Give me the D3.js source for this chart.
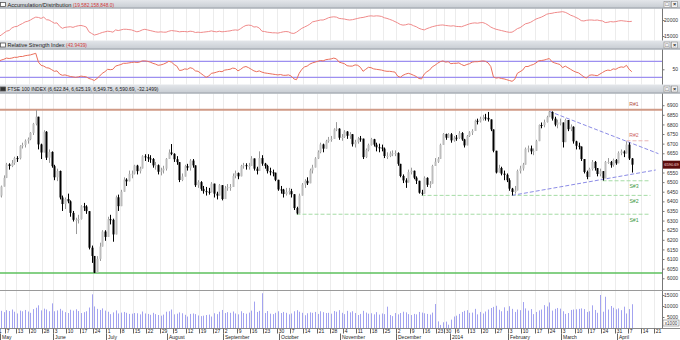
<!DOCTYPE html>
<html>
<head>
<meta charset="utf-8">
<script src="https://cdn.jsdelivr.net/npm/d3@7"></script>
<style>
  body { margin: 0; background: #fff; }
  svg { display: block; }
  text { font-family: "Liberation Sans", Arial, sans-serif; }
</style>
</head>
<body>
<div class="chart"></div>
<script>
// Canvas
var svgWidth = 680;
var svgHeight = 340;
var plotRight = 662;

// Calendar: first day, last day with data, end of the time axis, LSE holidays in between
var firstDay = "2013-05-01";
var lastDataDay = "2014-04-08";
var lastAxisDay = "2014-04-25";
var holidays = ["2013-05-06", "2013-05-27", "2013-08-26", "2013-12-25", "2013-12-26", "2014-01-01"];

// Titles
var adTitle = "Accumulation/Distribution";
var adValue = "(19,582,158,848.0)";
var rsiTitle = "Relative Strength Index";
var rsiValue = "(43.9439)";
var mainTitle = "FTSE 100 INDEX (6,622.84, 6,625.19, 6,549.75, 6,590.69, -32.1499)";

// Daily FTSE 100 prices (open of a day = previous close)
var prevClose = 6426;
var closes = [
  6430,6477,6522,6592,6584,6600,6625,6624,6687,6693,6715,6723,6756,6803,6840,6696,6654,6762,6627,6657,6583,
  6525,6558,6420,6386,6412,6400,6340,6304,6304,6308,6374,6373,6349,6159,6116,6029,6101,6165,6243,6215,
  6307,6304,6228,6421,6375,6450,6513,6504,6543,6544,6586,6557,6571,6634,6630,6623,6620,6587,6588,6554,6561,6570,6621,
  6654,6647,6619,6604,6511,6529,6583,6575,6612,6587,6484,6500,6465,6453,6450,6447,6492,6440,6430,6484,6412,
  6468,6474,6475,6532,6547,6530,6584,6588,6583,6584,6623,6570,6558,6625,6596,6584,6557,6551,6549,6512,6462,
  6461,6438,6449,6453,6437,6365,6337,6430,6487,6507,6494,6561,6576,6623,6656,6696,6674,6713,6721,6725,6774,6778,6731,
  6735,6763,6741,6749,6697,6708,6727,6726,6630,6667,6693,6723,6695,6681,6680,6674,6636,6636,6649,6650,6651,
  6595,6532,6509,6498,6552,6559,6523,6507,6445,6440,6522,6486,6492,6584,6606,6621,6694,6750,6731,6749,
  6717,6731,6730,6755,6722,6691,6740,6758,6766,6819,6816,6829,6836,6834,6826,6774,6663,6550,6573,6544,6538,6510,
  6466,6449,6457,6558,6571,6591,6673,6675,6660,6663,6713,6797,6796,6812,6838,6865,6830,6799,6810,6810,
  6708,6823,6775,6788,6712,6689,6685,6620,6553,6527,6568,6605,6573,6542,6557,6520,6605,6605,6588,6615,6598,
  6652,6659,6649,6695,6622.84,6590.69
];
var highs = [
  6452,6482,6535,6600,6598,6615,6632,6635,6692,6705,6722,6732,6760,6808,6876,6840,6700,6770,6765,6670,6660,
  6590,6570,6560,6430,6420,6440,6405,6350,6315,6330,6380,6392,6380,6349,6170,6116,6115,6185,6250,6250,
  6320,6330,6310,6430,6435,6460,6525,6520,6560,6560,6590,6590,6580,6640,6645,6645,6640,6625,6605,6592,6575,6585,6625,
  6670,6698,6650,6635,6604,6545,6590,6595,6620,6620,6587,6510,6505,6480,6475,6470,6500,6492,6450,6490,6484,
  6480,6490,6490,6545,6560,6550,6590,6600,6598,6600,6635,6623,6580,6660,6640,6600,6590,6575,6565,6549,6512,
  6480,6465,6470,6470,6465,6437,6372,6440,6495,6515,6525,6570,6590,6630,6665,6705,6700,6720,6735,6740,6780,6812,6780,
  6750,6770,6765,6760,6750,6720,6735,6740,6726,6675,6700,6730,6725,6705,6700,6695,6680,6655,6660,6665,6665,
  6655,6595,6540,6520,6565,6575,6560,6530,6507,6460,6530,6525,6505,6590,6625,6630,6700,6755,6752,6755,
  6755,6740,6745,6765,6760,6725,6745,6765,6775,6825,6830,6840,6850,6855,6865,6826,6774,6663,6590,6580,6560,6545,
  6520,6470,6480,6565,6585,6600,6680,6690,6690,6675,6720,6800,6810,6825,6845,6870,6868,6840,6825,6830,
  6810,6830,6823,6800,6790,6715,6705,6685,6620,6560,6575,6615,6610,6573,6570,6557,6610,6625,6610,6622,6620,
  6660,6670,6665,6712,6706,6625.19
];
var lows = [
  6410,6420,6477,6521,6565,6578,6590,6605,6618,6675,6680,6700,6718,6745,6795,6670,6620,6655,6615,6600,6575,
  6510,6505,6410,6350,6360,6390,6320,6295,6230,6285,6305,6350,6335,6150,6080,6027,6029,6090,6165,6195,
  6215,6280,6190,6228,6350,6375,6450,6480,6504,6520,6540,6540,6545,6571,6610,6605,6600,6575,6565,6540,6535,6545,6560,
  6621,6640,6605,6590,6500,6505,6529,6560,6560,6575,6475,6470,6455,6440,6430,6435,6447,6420,6410,6430,6405,
  6412,6455,6455,6475,6520,6515,6530,6570,6565,6565,6584,6560,6540,6558,6585,6570,6545,6535,6530,6505,6455,
  6440,6420,6430,6435,6420,6355,6332,6337,6430,6470,6485,6494,6545,6576,6620,6650,6655,6674,6705,6710,6725,6765,6720,
  6715,6730,6725,6725,6685,6680,6700,6710,6620,6625,6660,6690,6685,6660,6655,6660,6625,6620,6630,6635,6635,
  6585,6525,6495,6470,6498,6540,6515,6490,6440,6431,6440,6475,6470,6492,6584,6600,6621,6694,6720,6730,
  6705,6710,6715,6725,6715,6680,6691,6735,6745,6766,6800,6810,6820,6820,6815,6765,6655,6545,6550,6535,6510,6500,
  6455,6431,6440,6457,6545,6560,6591,6655,6645,6640,6663,6713,6780,6785,6810,6838,6820,6790,6780,6795,
  6680,6708,6765,6765,6700,6670,6670,6610,6545,6515,6527,6560,6560,6530,6530,6508,6520,6595,6575,6580,6590,
  6598,6640,6630,6649,6615,6549.75
];
var volumes = [
  7300,7800,7200,8100,7700,8400,7400,6600,7900,7600,8200,7500,6900,8600,9200,10300,8000,8800,8400,7600,11200,
  7600,8000,8700,7900,7200,6800,8300,7900,8500,7700,6800,7200,7600,9300,15300,9800,8700,8200,8900,7900,
  7400,6300,7100,8000,6600,7000,7300,6900,6400,6500,6800,6700,6200,7500,6600,6400,6000,6900,6300,5900,5600,6100,7400,
  7600,8400,6200,6500,7100,6700,6000,5200,6400,6600,6300,5700,5400,5600,5900,6100,5200,6700,6300,7400,8200,
  6800,7200,6900,7500,6600,6200,7600,6800,6500,7000,7900,12000,7300,7800,15800,6800,7700,6500,6300,6900,7600,
  6800,7300,6900,6200,6600,7600,8100,7400,6900,5800,6700,7100,6900,7300,6400,7600,7200,6800,6900,6500,7700,7400,8100,
  6900,6300,7800,7100,7600,6800,5900,6400,7800,7000,6500,6700,6200,7200,6100,6600,6300,9700,5900,5400,6800,
  6200,6800,7400,7100,6300,5900,6400,6200,7300,7000,6700,6400,6100,7000,10900,3000,1400,2600,2900,1500,
  3800,5200,5600,6400,7300,7800,8100,6900,7000,8700,6200,7300,6600,7500,8400,9100,9600,10100,8300,7600,9400,7800,
  9900,8700,7300,8400,8100,11800,8900,7900,8600,6300,7300,8000,8400,10400,9800,11600,7900,8700,9100,8800,
  7600,6400,6800,8200,8400,8500,8700,8900,8600,7300,7600,10300,8200,6900,15000,7400,14200,8400,10000,9200,8500,
  8900,8100,9700,6600,8600,10800
];
// Accumulation/Distribution, in millions
var adLine = [
  14700,15300,15900,16500,16700,17500,17900,18000,18500,18900,19400,19600,20000,20500,20900,20800,20500,20900,20100,20000,19500,
  19000,19100,18000,17400,17700,17800,17900,17700,18000,18200,18300,18100,17800,16300,15800,15300,15500,15800,16100,16300,
  16500,16400,16200,16900,16700,16900,17100,17100,17000,16900,16600,16300,16500,16900,17100,16900,16700,16500,16300,16200,16300,16200,16200,
  16500,16700,16600,16500,16300,16400,16400,16300,16500,16400,16100,16200,16100,16200,16300,16400,16600,16400,16300,16500,16300,
  16400,16500,16600,16800,16900,16800,17300,17900,18300,18400,18300,17800,17900,17500,16500,16400,16200,16100,16000,16000,15900,
  16100,16300,16400,16300,15900,15800,16200,16800,17400,17800,18200,18700,19400,19600,19800,20000,20000,20300,20700,20900,21000,20900,20500,
  20400,20300,20100,20000,20100,20300,20500,20700,20800,21000,21200,21300,21200,21300,21250,21100,20700,20500,20200,19900,19500,
  19100,18600,18400,18500,18750,18600,18200,17900,17400,17100,16900,17300,17600,17900,18100,18300,18400,18450,18300,18200,
  18100,18200,18000,17950,17900,18200,18500,18800,19000,19100,19000,19150,19200,18900,18400,17800,17400,17100,16900,16700,16500,16300,
  16150,16200,16700,17300,17600,18200,18800,19000,19300,19800,20300,20600,20900,21300,21800,22000,22100,22300,22400,22500,
  22600,22400,22000,21500,21200,20800,20400,19800,19700,19900,20000,20000,19900,20000,19800,19700,19200,19300,19500,19400,19500,
  19700,19800,19700,19600,19500,19582
];
var rsiValues = [
  70,73,75,78,77,78,80,80,82,82,84,85,86,88,90,68,60,58,54,53,49,
  45,46,38,35,36,34,32,31,30,31,33,32,31,27,25,22,27,33,40,44,
  50,49,50,58,60,62,65,65,66,67,68,67,68,71,71,70,68,65,63,60,61,63,66,
  70,68,62,58,47,48,51,50,54,52,46,45,40,35,30,33,40,41,43,45,44,
  48,49,50,53,52,46,50,55,57,54,50,46,44,46,43,41,40,39,38,37,36,
  37,35,35,36,33,26,24,40,50,56,58,63,66,68,70,72,71,74,75,76,78,76,68,
  66,64,59,58,58,61,60,55,45,50,55,54,51,50,49,48,46,45,45,44,43,
  33,30,35,38,40,38,35,32,27,26,38,44,48,56,60,65,69,71,68,69,
  64,65,65,66,62,59,62,64,68,69,69,70,71,70,66,57,31,28,29,27,26,24,
  22,20,25,40,44,48,57,57,60,62,66,71,72,73,75,77,69,66,64,62,
  54,58,54,50,46,43,41,36,31,28,35,36,35,34,38,42,46,48,47,51,50,
  54,56,55,60,50,43.94
];

// Axis tick labels (6600 sits under the last-price box, so it is not printed)
var priceTicks = [6000, 6050, 6100, 6150, 6200, 6250, 6300, 6350, 6400, 6450, 6500, 6550, 6650, 6700, 6750, 6800, 6850, 6900];
var volumeTicks = [5000, 10000, 15000];
var adTicks = [15000, 20000];
var rsiTicks = [50];
var rsiBands = [70, 30];

// Drawn support / resistance levels
var levelNames = ["R#1", "R#2", "S#3", "S#2", "S#1"];
var levelValues = [6876, 6715, 6507, 6431, 6333];
var levelFrom = ["2013-05-01", "2014-04-04", "2014-03-24", "2013-12-13", "2013-10-09"];
var levelTo = "2014-04-17";
var supportValue = 6028;
var trendUpper = [["2014-02-24", 6868], ["2014-04-22", 6648]];
var trendLower = [["2014-02-04", 6431], ["2014-04-21", 6563]];

// ---------------------------------------------------------------
var parseDate = d3.timeParse("%Y-%m-%d");
var fmtDate = d3.timeFormat("%Y-%m-%d");

var axisDays = d3.timeDays(parseDate(firstDay), d3.timeDay.offset(parseDate(lastAxisDay), 1))
  .filter(d => d.getDay() !== 0 && d.getDay() !== 6 && holidays.indexOf(fmtDate(d)) < 0);
var dayIndex = {};
axisDays.forEach((d, i) => { dayIndex[fmtDate(d)] = i; });
var lastIndex = dayIndex[lastDataDay];

var svg = d3.select(".chart").append("svg")
  .attr("width", svgWidth)
  .attr("height", svgHeight);

var defs = svg.append("defs");
var grad = defs.append("linearGradient").attr("id", "barGrad")
  .attr("x1", 0).attr("y1", 0).attr("x2", 0).attr("y2", 1);
grad.append("stop").attr("offset", "0%").attr("stop-color", "#e3e6ea");
grad.append("stop").attr("offset", "100%").attr("stop-color", "#c6cbd1");

// panels: title bar top, plot top, plot bottom
var adPanel = {bar: 0, top: 8.5, bottom: 40.5};
var rsiPanel = {bar: 40.5, top: 49.5, bottom: 84.5};
var mainPanel = {bar: 84.5, top: 93.5, bottom: 290.5};
var volPanel = {top: 291, bottom: 328};

function clip(id, p) {
  defs.append("clipPath").attr("id", id).append("rect")
    .attr("x", 0).attr("y", p.top).attr("width", plotRight).attr("height", p.bottom - p.top);
}
clip("clipAd", adPanel);
clip("clipRsi", rsiPanel);
clip("clipMain", mainPanel);
clip("clipVol", volPanel);

// Scales
var x = d3.scaleLinear().domain([0, lastIndex]).range([-1.5, 631.8]);
var yPrice = d3.scaleLinear().domain([6030, 6875]).range([272.5, 110]);
var yVol = d3.scaleLinear().domain([0, 15000]).range([328, 295]);
var yAd = d3.scaleLinear().domain([15000, 20000]).range([36, 20]);
var yRsi = d3.scaleLinear().domain([30, 70]).range([77.3, 61.3]);
var xDate = s => x(dayIndex[s]);

// weekly and monthly ticks on the date axis
var weekTicks = [], monthTicks = [];
axisDays.forEach(function(d, i) {
  var prev = axisDays[i - 1];
  if (!prev || +d3.timeMonday.floor(prev) !== +d3.timeMonday.floor(d)) weekTicks.push({i: i, d: d});
  if (!prev || prev.getMonth() !== d.getMonth()) monthTicks.push({i: i, d: d});
});
var tickX = i => Math.round(x(i) - 1.3) + 0.5;

// vertical grid in every panel
[adPanel, rsiPanel, mainPanel, volPanel].forEach(function(p) {
  svg.append("g").selectAll("line").data(weekTicks).enter().append("line")
    .attr("x1", d => tickX(d.i)).attr("x2", d => tickX(d.i))
    .attr("y1", p.top).attr("y2", p.bottom)
    .attr("stroke", "#ececec").attr("stroke-width", 1);
});

// Title bars
function titleBar(p, bottom, parts, widths, dark) {
  svg.append("rect").attr("x", 0).attr("y", p.bar).attr("width", svgWidth).attr("height", bottom - p.bar)
    .attr("fill", "url(#barGrad)");
  svg.append("line").attr("x1", 0).attr("x2", svgWidth).attr("y1", bottom - 0.5).attr("y2", bottom - 0.5)
    .attr("stroke", "#9aa1a8");
  svg.append("rect").attr("x", 0.5).attr("y", p.bar + 2.5).attr("width", 5).attr("height", 4)
    .attr("fill", dark ? "#333" : "#fff").attr("stroke", "#555").attr("stroke-width", 0.8);
  var xPos = 7.5;
  parts.forEach(function(part, k) {
    svg.append("text").attr("x", xPos).attr("y", p.bar + 6.6).attr("font-size", 5.6)
      .attr("fill", part[1]).attr("textLength", widths[k]).attr("lengthAdjust", "spacingAndGlyphs")
      .text(part[0]);
    xPos += widths[k] + 1.5;
  });
  // window buttons
  [664, 671.5].forEach(function(bx, k) {
    svg.append("rect").attr("x", bx).attr("y", p.bar + 1.5).attr("width", 6).attr("height", 6)
      .attr("fill", "#f2f2f2").attr("stroke", "#8a8a8a").attr("stroke-width", 0.6);
    svg.append("text").attr("x", bx + 3).attr("y", p.bar + 6.3).attr("font-size", 5.5)
      .attr("text-anchor", "middle").attr("fill", "#222").attr("font-weight", "bold")
      .text(k === 0 ? "\u25A1" : "\u00D7");
  });
}
titleBar(adPanel, adPanel.top, [[adTitle, "#222"], [adValue, "#d23a3a"]], [64, 41], false);
titleBar(rsiPanel, rsiPanel.top, [[rsiTitle, "#222"], [rsiValue, "#d23a3a"]], [57, 21], false);
titleBar(mainPanel, mainPanel.top, [[mainTitle, "#222"]], [151], true);

// separator between price and volume
svg.append("line").attr("x1", 0).attr("x2", svgWidth).attr("y1", 290.5).attr("y2", 290.5).attr("stroke", "#9a9a9a");

// A/D line
svg.append("path")
  .datum(adLine)
  .attr("clip-path", "url(#clipAd)")
  .attr("fill", "none").attr("stroke", "#ef8a8a").attr("stroke-width", 1)
  .attr("d", d3.line().x((d, i) => x(i)).y(d => yAd(d)));

// RSI bands and line
svg.append("g").attr("clip-path", "url(#clipRsi)").selectAll("line").data(rsiBands).enter().append("line")
  .attr("x1", 0).attr("x2", plotRight).attr("y1", d => yRsi(d)).attr("y2", d => yRsi(d))
  .attr("stroke", "#9d8ff0").attr("stroke-width", 1.2);
svg.append("path")
  .datum(rsiValues)
  .attr("clip-path", "url(#clipRsi)")
  .attr("fill", "none").attr("stroke", "#ea6f5c").attr("stroke-width", 1)
  .attr("d", d3.line().x((d, i) => x(i)).y(d => yRsi(d)));

// Price panel
var mainG = svg.append("g").attr("clip-path", "url(#clipMain)");

// horizontal levels
mainG.append("line").attr("x1", 0).attr("x2", plotRight)
  .attr("y1", yPrice(levelValues[0])).attr("y2", yPrice(levelValues[0]))
  .attr("stroke", "#d09a86").attr("stroke-width", 2);
mainG.append("line").attr("x1", 0).attr("x2", plotRight)
  .attr("y1", yPrice(supportValue)).attr("y2", yPrice(supportValue))
  .attr("stroke", "#5cc15c").attr("stroke-width", 1.5);
levelNames.slice(1).forEach(function(name, k) {
  var v = levelValues[k + 1];
  mainG.append("line")
    .attr("x1", xDate(levelFrom[k + 1])).attr("x2", xDate(levelTo))
    .attr("y1", yPrice(v)).attr("y2", yPrice(v))
    .attr("stroke", name[0] === "R" ? "#e9b4b4" : "#a6dca6")
    .attr("stroke-width", 1).attr("stroke-dasharray", "4,2");
});
[trendUpper, trendLower].forEach(function(t) {
  mainG.append("line")
    .attr("x1", xDate(t[0][0])).attr("y1", yPrice(t[0][1]))
    .attr("x2", xDate(t[1][0])).attr("y2", yPrice(t[1][1]))
    .attr("stroke", "#8c8ce6").attr("stroke-width", 1).attr("stroke-dasharray", "4,2");
});
mainG.selectAll("text.level").data(levelNames).enter().append("text")
  .attr("class", "level")
  .attr("x", 634).attr("text-anchor", "middle").attr("font-size", 5.2)
  .attr("y", (d, k) => d[0] === "R" ? yPrice(levelValues[k]) - 3.5 : yPrice(levelValues[k]) + 7.5)
  .attr("fill", d => d === "R#1" ? "#b5564a" : (d[0] === "R" ? "#cf6a6a" : "#3f9a3f"))
  .text(d => d);

// candles
var candles = closes.map(function(c, i) {
  return {i: i, open: i === 0 ? prevClose : closes[i - 1], close: c, high: highs[i], low: lows[i]};
});
var cx = d => Math.round(x(d.i));
mainG.selectAll("line.wick").data(candles).enter().append("line")
  .attr("class", "wick")
  .attr("x1", d => cx(d) + 0.5).attr("x2", d => cx(d) + 0.5)
  .attr("y1", d => yPrice(d.high)).attr("y2", d => yPrice(d.low))
  .attr("stroke", d => d.close >= d.open ? "#9a9a9a" : "#000").attr("stroke-width", 1);
mainG.selectAll("rect.body").data(candles).enter().append("rect")
  .attr("class", "body")
  .attr("x", d => cx(d) - 0.5).attr("width", 2)
  .attr("y", d => yPrice(Math.max(d.open, d.close)))
  .attr("height", d => Math.max(1, Math.abs(yPrice(d.open) - yPrice(d.close))))
  .attr("fill", d => d.close >= d.open ? "#bdbdbd" : "#000");

// Volume bars
svg.append("g").attr("clip-path", "url(#clipVol)")
  .selectAll("line").data(volumes).enter().append("line")
  .attr("x1", (d, i) => Math.round(x(i)) + 0.5).attr("x2", (d, i) => Math.round(x(i)) + 0.5)
  .attr("y1", d => yVol(d)).attr("y2", yVol(0))
  .attr("stroke", "#a3a3f0").attr("stroke-width", 1);

// Right axes
function rightAxis(scale, ticks, p) {
  var g = svg.append("g").attr("transform", "translate(" + (plotRight + 0.5) + ",0)")
    .call(d3.axisRight(scale).tickValues(ticks).tickSize(2).tickFormat(d3.format("d")));
  g.select(".domain").remove();
  g.selectAll("line").attr("stroke", "#777");
  g.selectAll("text").attr("x", 15.5).attr("text-anchor", "end")
    .attr("font-size", 5).attr("fill", "#333").attr("font-family", "Liberation Sans, Arial, sans-serif");
  svg.append("line").attr("x1", plotRight + 0.5).attr("x2", plotRight + 0.5)
    .attr("y1", p.top).attr("y2", p.bottom).attr("stroke", "#777");
  return g;
}
rightAxis(yAd, adTicks, adPanel);
rightAxis(yRsi, rsiTicks, rsiPanel);
rightAxis(yPrice, priceTicks, mainPanel);
rightAxis(yVol, volumeTicks, volPanel);

// last close marker
var lastClose = closes[lastIndex];
svg.append("rect").attr("x", plotRight + 1).attr("y", yPrice(lastClose) - 4).attr("width", 17).attr("height", 8)
  .attr("fill", "#5b0d0d");
svg.append("text").attr("x", plotRight + 9.5).attr("y", yPrice(lastClose) + 1.5).attr("font-size", 4)
  .attr("text-anchor", "middle").attr("fill", "#ffd9d9")
  .text(d3.format(".2f")(lastClose));

// volume unit box
svg.append("rect").attr("x", plotRight + 1).attr("y", 320).attr("width", 16).attr("height", 6)
  .attr("fill", "#fff").attr("stroke", "#777").attr("stroke-width", 0.6);
svg.append("text").attr("x", plotRight + 9).attr("y", 324.8).attr("font-size", 4.6)
  .attr("text-anchor", "middle").attr("fill", "#333").text("x1000");

// Date axis
svg.append("line").attr("x1", 0).attr("x2", svgWidth).attr("y1", 328.5).attr("y2", 328.5).attr("stroke", "#888");
var axisG = svg.append("g");
axisG.selectAll("line.wk").data(weekTicks).enter().append("line")
  .attr("x1", d => tickX(d.i)).attr("x2", d => tickX(d.i))
  .attr("y1", 328.5).attr("y2", 333.5).attr("stroke", "#666");
axisG.selectAll("text.wk").data(weekTicks).enter().append("text")
  .attr("x", d => tickX(d.i) + 1.2).attr("y", 332.8)
  .attr("font-size", 5).attr("fill", "#222")
  .text(d => d.d.getDate());
axisG.selectAll("line.mo").data(monthTicks).enter().append("line")
  .attr("x1", d => Math.max(0.5, tickX(d.i))).attr("x2", d => Math.max(0.5, tickX(d.i)))
  .attr("y1", 333.5).attr("y2", 340).attr("stroke", "#666");
axisG.selectAll("text.mo").data(monthTicks).enter().append("text")
  .attr("x", d => Math.max(0.5, tickX(d.i)) + 1.5).attr("y", 338.8)
  .attr("font-size", 5).attr("fill", "#222")
  .text(d => d.d.getMonth() === 0 ? d3.timeFormat("%Y")(d.d) : d3.timeFormat("%B")(d.d));
</script>
</body>
</html>
